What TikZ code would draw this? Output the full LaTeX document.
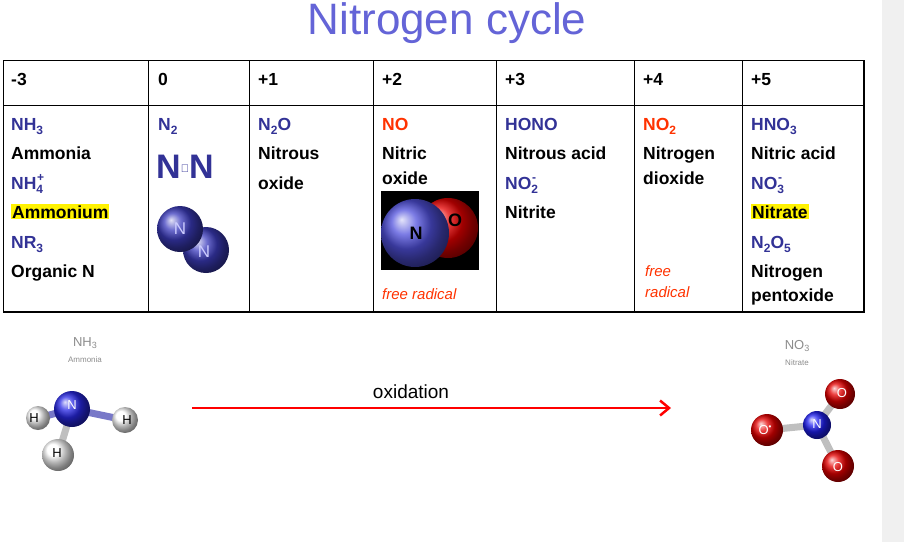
\documentclass[tikz,border=0pt]{standalone}
\usepackage{fontspec}
\setmainfont{Liberation Sans}
\usetikzlibrary{arrows.meta}
\newcommand{\lsub}[1]{\raisebox{-0.25em}{\fontsize{12}{12}\selectfont #1}}
\newcommand{\lsup}[1]{\raisebox{0.45em}{\fontsize{12}{12}\selectfont #1}}
\begin{document}
\begin{tikzpicture}[x=1pt,y=-1pt,
  t/.style={anchor=base west,inner sep=0pt,font=\fontsize{17.5}{20}\selectfont\bfseries},
  bl/.style={t,text={rgb,255:red,50;green,50;blue,150}},
  rd/.style={t,text={rgb,255:red,255;green,50;blue,0}},
  it/.style={anchor=base west,inner sep=0pt,font=\fontsize{15}{18}\selectfont\itshape,text={rgb,255:red,255;green,50;blue,0}},
  gl/.style={inner sep=0pt,text=black!45},
  bond/.style={line width=7pt,color=black!25,line cap=round}]
\useasboundingbox (0,0) rectangle (904,542);
\fill[black!6] (882,0) rectangle (904,542);
\node[inner sep=0pt,text={rgb,255:red,100;green,100;blue,215},font=\fontsize{44}{48}\selectfont] (title) at (447,23) {Nitrogen cycle};
% table
\draw[line width=1pt] (3,60) rectangle (864,312);
\draw[line width=2pt] (3,312) -- (864,312) -- (864,60);
\draw[line width=0.8pt] (3,105) -- (864,105);
\foreach \x in {148,249,373,496,634,742} \draw[line width=0.8pt] (\x,60) -- (\x,312);
\foreach \x/\s [count=\i] in {11/-3,158/0,258/+1,382/+2,505/+3,643/+4,751/+5}
  \node[t] (h\i) at (\x,85) {\s};
% col 1
\node[bl] (c1a) at (11,130) {NH\lsub{3}};
\node[t] (c1b) at (11,159) {Ammonia};
\node[bl] (c1c) at (11,189) {NH\lsub{4}\kern-0.35em\lsup{+}};
\node[t,fill=yellow,inner sep=1pt] (c1d) at (11,218) {Ammonium};
\node[bl] (c1e) at (11,248) {NR\lsub{3}};
\node[t] (c1f) at (11,277) {Organic N};
% col 2
\node[bl] (c2a) at (158,130) {N\lsub{2}};
\node[bl,font=\fontsize{34}{36}\selectfont\bfseries] (c2b) at (156,178) {N\raisebox{6pt}{\fontsize{11}{11}\selectfont\bfseries ≅}N};
\shade[ball color={rgb,255:red,60;green,60;blue,190}] (206,250) circle (23);
\shade[ball color={rgb,255:red,60;green,60;blue,190}] (180,229) circle (23);
\node[text=white!80!blue,font=\fontsize{17}{17}\selectfont] (n2a) at (180,229) {N};
\node[text=white!80!blue,font=\fontsize{17}{17}\selectfont] (n2b) at (204,252) {N};
% col 3
\node[bl] (c3a) at (258,130) {N\lsub{2}O};
\node[t] (c3b) at (258,159) {Nitrous};
\node[t] (c3c) at (258,189) {oxide};
% col 4
\node[rd] (c4a) at (382,130) {NO};
\node[t] (c4b) at (382,159) {Nitric};
\node[t] (c4c) at (382,184) {oxide};
\fill[black] (381,191) rectangle (479,270);
\begin{scope}
\clip (381,191) rectangle (479,270);
\shade[ball color={rgb,255:red,230;green,0;blue,0}] (448,228) circle (30);
\shade[ball color={rgb,255:red,80;green,80;blue,220}] (415,233) circle (34);
\end{scope}
\node[font=\fontsize{18}{18}\selectfont\bfseries] (nN) at (416,233) {N};
\node[font=\fontsize{18}{18}\selectfont\bfseries] (nO) at (455,220) {O};
\node[it] (c4d) at (382,299) {free radical};
% col 5
\node[bl] (c5a) at (505,130) {HONO};
\node[t] (c5b) at (505,159) {Nitrous acid};
\node[bl] (c5c) at (505,189) {NO\lsub{2}\kern-0.35em\lsup{-}};
\node[t] (c5d) at (505,218) {Nitrite};
% col 6
\node[rd] (c6a) at (643,130) {NO\lsub{2}};
\node[t] (c6b) at (643,159) {Nitrogen};
\node[t] (c6c) at (643,184) {dioxide};
\node[it] (c6d) at (645,276) {free};
\node[it] (c6e) at (645,297) {radical};
% col 7
\node[bl] (c7a) at (751,130) {HNO\lsub{3}};
\node[t] (c7b) at (751,159) {Nitric acid};
\node[bl] (c7c) at (751,189) {NO\lsub{3}\kern-0.35em\lsup{-}};
\node[t,fill=yellow,inner sep=1pt] (c7d) at (751,218) {Nitrate};
\node[bl] (c7e) at (751,248) {N\lsub{2}O\lsub{5}};
\node[t] (c7f) at (751,277) {Nitrogen};
\node[t] (c7g) at (751,301) {pentoxide};
% NH3 molecule
\node[gl,font=\fontsize{13}{13}\selectfont] (lnh3) at (85,343) {NH\raisebox{-0.2em}{\fontsize{9}{9}\selectfont 3}};
\node[gl,font=\fontsize{8}{8}\selectfont] (lam) at (85,360) {Ammonia};
\coordinate (N1) at (72,409);
\draw[bond,color={rgb,255:red,120;green,120;blue,200}] (N1) -- (38,418);
\draw[bond,color={rgb,255:red,120;green,120;blue,200}] (N1) -- (125,420);
\draw[bond] (N1) -- (58,455);
\shade[ball color=white] (38,418) circle (12);
\shade[ball color=white] (125,420) circle (13);
\shade[ball color=white] (58,455) circle (16);
\shade[ball color={rgb,255:red,40;green,40;blue,230}] (N1) circle (18);
\node[text=white,font=\fontsize{13}{13}\selectfont] (hN) at (72,405) {N};
\node[font=\fontsize{13}{13}\selectfont] (h1) at (34,418) {H};
\node[font=\fontsize{13}{13}\selectfont] (h2) at (127,420) {H};
\node[font=\fontsize{13}{13}\selectfont] (h3) at (57,453) {H};
% arrow
\coordinate (a1) at (192,408);
\coordinate (a2) at (671,408);
\draw[red,line width=2.5pt,-{Straight Barb[length=9pt,width=15pt,line width=2.5pt]}] (a1) -- (a2);
\node[font=\fontsize{19}{20}\selectfont] (ox) at (411,392) {oxidation};
% NO3 molecule
\node[gl,font=\fontsize{13}{13}\selectfont] (lno3) at (797,346) {NO\raisebox{-0.2em}{\fontsize{9}{9}\selectfont 3}};
\node[gl,font=\fontsize{8}{8}\selectfont] (lna) at (797,363) {Nitrate};
\coordinate (N2) at (817,425);
\draw[bond] (N2) -- (840,394);
\draw[bond] (N2) -- (767,430);
\draw[bond] (N2) -- (838,466);
\shade[ball color={rgb,255:red,230;green,0;blue,0}] (840,394) circle (15);
\shade[ball color={rgb,255:red,230;green,0;blue,0}] (767,430) circle (16);
\shade[ball color={rgb,255:red,230;green,0;blue,0}] (838,466) circle (16);
\shade[ball color={rgb,255:red,30;green,30;blue,240}] (N2) circle (14);
\node[text=white,font=\fontsize{13}{13}\selectfont] (oN) at (817,424) {N};
\node[text=white,font=\fontsize{13}{13}\selectfont] (o1) at (842,393) {O};
\node[text=white,font=\fontsize{13}{13}\selectfont] (o2) at (765,430) {O\raisebox{0.4em}{\fontsize{8}{8}\selectfont •}};
\node[text=white,font=\fontsize{13}{13}\selectfont] (o3) at (838,467) {O};
\end{tikzpicture}
\end{document}
